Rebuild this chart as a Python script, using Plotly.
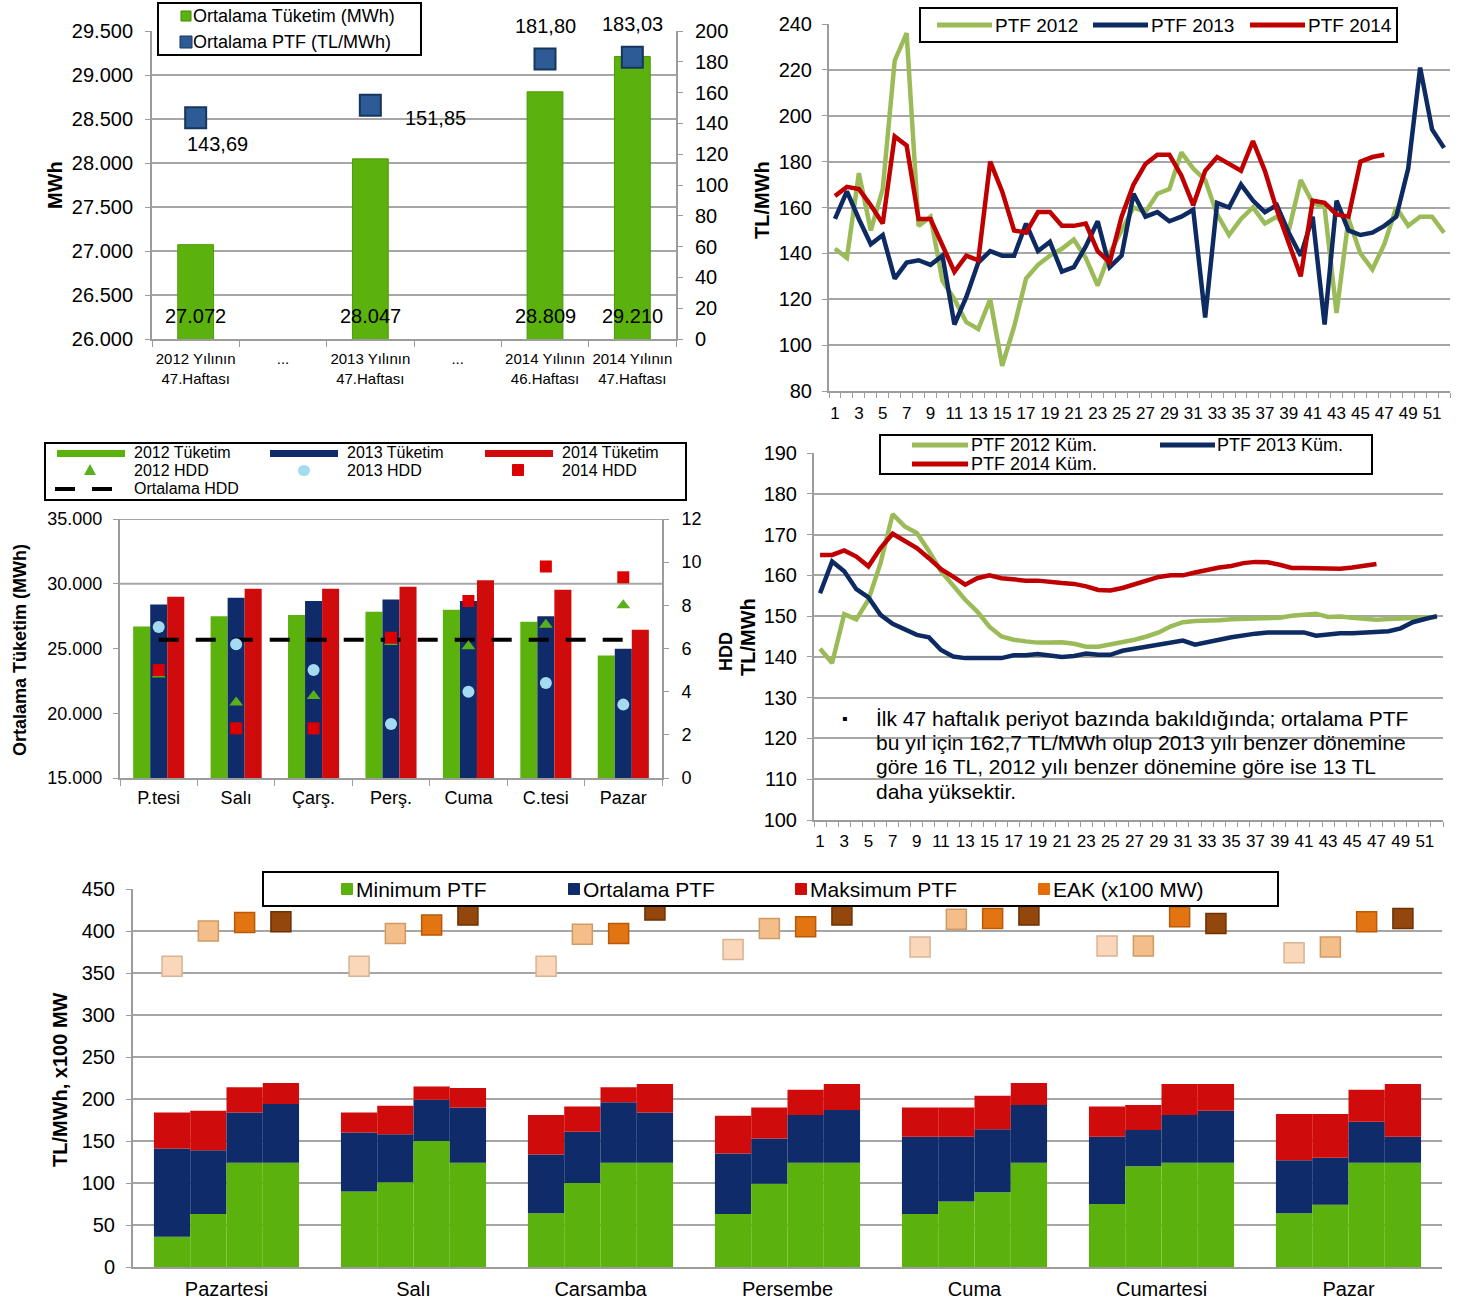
import plotly.graph_objects as go

FONT = "Liberation Sans, Arial, sans-serif"
W, H = 1458, 1304
GRID = "#A6A6A6"
AXIS = "#9C9C9C"

# ---------------- DATA ----------------
# Top-left: weekly average consumption & PTF
tl_ticktext = ["2012 Yılının<br>47.Haftası", "...", "2013 Yılının<br>47.Haftası", "...",
               "2014 Yılının<br>46.Haftası", "2014 Yılının<br>47.Haftası"]
tl_bar_idx = [0, 2, 4, 5]
tl_tuketim = [27072, 28047, 28809, 29210]
tl_ptf = [143.69, 151.85, 181.80, 183.03]

# Top-right: weekly PTF
weeks = list(range(1, 53))
ptf_2012 = [142, 138, 175, 150, 168, 224, 236, 152, 156, 128, 120, 110, 107, 120, 91, 108, 129, 135,
            139, 142, 146, 138, 126, 140, 150, 160, 158, 166, 168, 184, 177, 172, 157, 148, 155, 160,
            153, 156, 150, 172, 162, 160, 114, 155, 140, 133, 144, 160, 152, 156, 156, 149]
ptf_2013 = [155, 167, 155, 144, 148, 129, 136, 137, 135, 139, 109, 121, 136, 141, 139, 139, 153, 141,
            145, 132, 134, 143, 154, 134, 139, 166, 156, 158, 154, 156, 159, 112, 162, 160, 170, 163,
            158, 161, 149, 139, 156, 109, 163, 150, 148, 149, 152, 156, 177, 221, 194, 186]
ptf_2014 = [165, 169, 168, 161, 153, 191, 187, 155, 155, 143, 132, 139, 137, 180, 167, 150, 149, 158,
            158, 152, 152, 153, 141, 136, 156, 170, 179, 183, 183, 174, 161, 176, 182, 179, 176, 189,
            176, 159, 144, 130, 163, 162, 157, 156, 180, 182, 183]

# Middle-right: cumulative PTF
kum_2012 = [142, 138.5, 150.5, 149.2, 154, 163, 175, 172, 170.4, 166, 161, 157.3, 154, 151.1, 147.4,
            145, 144.2, 143.8, 143.5, 143.5, 143.6, 143.2, 142.5, 142.5, 143, 143.6, 144.2, 145, 146,
            147.5, 148.5, 148.8, 148.8, 149, 149.2, 149.3, 149.5, 149.5, 149.6, 150.1, 150.3, 150.6,
            149.8, 149.9, 149.6, 149.3, 149.1, 149.3, 149.4, 149.4, 149.6, 149.8]
kum_2013 = [155.6, 163.4, 161, 156.6, 154.6, 150.3, 148.1, 146.6, 145.4, 144.8, 141.7, 140.1, 139.7,
            139.7, 139.7, 139.7, 140.4, 140.4, 140.7, 140.3, 140, 140.2, 140.8, 140.5, 140.5, 141.5,
            142, 142.5, 143, 143.5, 144, 143, 143.5, 144.2, 144.8, 145.3, 145.7, 146, 146, 145.9, 146,
            145.2, 145.6, 145.8, 145.8, 146, 146, 146.3, 147, 148.5, 149.3, 150]
kum_2014 = [165, 165, 166.1, 164.6, 162.2, 166.7, 170.2, 168.3, 166.7, 164.2, 161.5, 159.7, 157.7,
            159.3, 160, 159.3, 158.9, 158.7, 158.7, 158.3, 158.1, 157.9, 157.3, 156.4, 156.3, 156.9,
            157.8, 158.7, 159.6, 160, 160, 160.7, 161.4, 161.9, 162.3, 163, 163.3, 163.2, 162.6,
            161.8, 161.8, 161.8, 161.6, 161.6, 161.9, 162.3, 162.8]

# Middle-left: daily consumption & HDD
ml_days = ["P.tesi", "Salı", "Çarş.", "Perş.", "Cuma", "C.tesi", "Pazar"]
tuk_2012 = [26700, 27500, 27580, 27840, 27990, 27070, 24450]
tuk_2013 = [28400, 28920, 28660, 28790, 28660, 27500, 24990]
tuk_2014 = [28990, 29610, 29610, 29760, 30270, 29530, 26450]
hdd_2012 = [4.8, 3.5, 3.8, 6.3, 6.1, 7.1, 8.0]
hdd_2013 = [7.0, 6.2, 5.0, 2.5, 4.0, 4.4, 3.4]
hdd_2014 = [5.0, 2.3, 2.3, 6.5, 8.2, 9.8, 9.3]
hdd_ort = [6.4] * 7

# Bottom: daily min / avg / max PTF and EAK, four sub-series per day
bt_days = ["Pazartesi", "Salı", "Carsamba", "Persembe", "Cuma", "Cumartesi", "Pazar"]
min_ptf = [
    [36, 90, 64, 63, 63, 75, 64],
    [63, 101, 100, 99, 78, 120, 74],
    [124, 150, 124, 124, 89, 124, 124],
    [124, 124, 124, 124, 124, 124, 124],
]
ort_ptf = [
    [141, 160, 134, 135, 155, 155, 127],
    [139, 158, 161, 153, 155, 163, 130],
    [184, 199, 196, 181, 164, 181, 173],
    [194, 190, 184, 187, 193, 186, 155],
]
max_ptf = [
    [184, 184, 181, 180, 190, 191, 182],
    [186, 192, 191, 190, 190, 193, 182],
    [214, 215, 214, 211, 204, 218, 211],
    [219, 213, 218, 218, 219, 218, 218],
]
eak = [
    [358, 358, 358, 378, 381, 382, 374],
    [400, 397, 396, 403, 414, 382, 381],
    [410, 407, 397, 405, 415, 417, 411],
    [411, 419, 425, 419, 419, 409, 415],
]

# ---------------- STYLE ----------------
GREEN = "#5CB20D"
NAVY = "#0F2B69"
RED = "#D00B0B"
L2012 = "#9BBB59"
L2013 = "#0D2A63"
L2014 = "#C00000"
EAK_COLORS = ["#F9D7B8", "#F3BE8A", "#E27412", "#93470C"]
EAK_LINES = ["#D9B393", "#CF9A66", "#B85A08", "#6B3206"]


def px(x):
    return x / W


def py(y):
    return 1 - y / H


shapes = []
annotations = []


def box(x0, y0, x1, y1):
    shapes.append(dict(type="rect", xref="paper", yref="paper", x0=px(x0), x1=px(x1),
                       y0=py(y1), y1=py(y0), line=dict(color="black", width=2),
                       fillcolor="white", layer="above"))


def hline(x0, x1, y, color, width, dash=None):
    d = dict(type="line", xref="paper", yref="paper", x0=px(x0), x1=px(x1), y0=py(y), y1=py(y),
             line=dict(color=color, width=width), layer="above")
    if dash:
        d["line"]["dash"] = dash
    shapes.append(d)


def sq(x, y, s, color, line=None):
    shapes.append(dict(type="rect", xref="paper", yref="paper", x0=px(x - s / 2), x1=px(x + s / 2),
                       y0=py(y + s / 2), y1=py(y - s / 2), fillcolor=color,
                       line=dict(color=line or color, width=1), layer="above"))


def txt(x, y, text, size, xanchor="left", bold=False, angle=0):
    if bold:
        text = "<b>" + text + "</b>"
    annotations.append(dict(xref="paper", yref="paper", x=px(x), y=py(y), text=text,
                            showarrow=False, xanchor=xanchor, yanchor="middle", borderpad=0,
                            font=dict(size=size, color="black", family=FONT), textangle=angle))


fig = go.Figure()

# ---------- Top-left ----------
fig.add_trace(go.Bar(x=tl_bar_idx, y=tl_tuketim, width=0.41, marker=dict(color=GREEN,
              line=dict(color="#4C9A08", width=1)), xaxis="x", yaxis="y"))
fig.add_trace(go.Scatter(x=tl_bar_idx, y=tl_ptf, mode="markers", xaxis="x", yaxis="y2",
                         marker=dict(symbol="square", size=21, color="#2D5B95",
                                     line=dict(color="#17365F", width=2)), cliponaxis=False))
for xi, v in zip(tl_bar_idx, tl_tuketim):
    annotations.append(dict(x=xi, y=26000, xref="x", yref="y", yanchor="bottom", yshift=10,
                            text=f"{v:,.0f}".replace(",", "."), showarrow=False,
                            font=dict(size=20, color="black", family=FONT)))
ptf_label_shift = [(22, -26), (65, -13), (0, 33), (0, 33)]
for xi, v, (dx, dy) in zip(tl_bar_idx, tl_ptf, ptf_label_shift):
    annotations.append(dict(x=xi, y=v, xref="x", yref="y2", xshift=dx, yshift=dy,
                            text=f"{v:.2f}".replace(".", ","), showarrow=False,
                            font=dict(size=20, color="black", family=FONT)))

# ---------- Top-right ----------
for arr, col in [(ptf_2012, L2012), (ptf_2013, L2013), (ptf_2014, L2014)]:
    fig.add_trace(go.Scatter(x=weeks[:len(arr)], y=arr, mode="lines", xaxis="x3", yaxis="y3",
                             line=dict(color=col, width=4.5)))

# ---------- Middle-left ----------
for arr, col, off in [(tuk_2012, GREEN, -0.33), (tuk_2013, NAVY, -0.11), (tuk_2014, RED, 0.11)]:
    fig.add_trace(go.Bar(x=ml_days, y=[v - 15000 for v in arr], base=15000, width=0.22,
                         offset=off, marker=dict(color=col, line=dict(width=0)),
                         xaxis="x4", yaxis="y4"))
fig.add_trace(go.Scatter(x=ml_days, y=hdd_ort, mode="lines", xaxis="x4", yaxis="y5",
                         line=dict(color="black", width=4, dash="20px,17px")))
fig.add_trace(go.Scatter(x=ml_days, y=hdd_2012, mode="markers", xaxis="x4", yaxis="y5",
                         marker=dict(symbol="triangle-up", size=12, color="#5AB01A")))
fig.add_trace(go.Scatter(x=ml_days, y=hdd_2013, mode="markers", xaxis="x4", yaxis="y5",
                         marker=dict(symbol="circle", size=12, color="#A4DBF0")))
fig.add_trace(go.Scatter(x=ml_days, y=hdd_2014, mode="markers", xaxis="x4", yaxis="y5",
                         marker=dict(symbol="square", size=12, color="#DD0000")))

# ---------- Middle-right ----------
for arr, col in [(kum_2012, L2012), (kum_2013, L2013), (kum_2014, L2014)]:
    fig.add_trace(go.Scatter(x=weeks[:len(arr)], y=arr, mode="lines", xaxis="x6", yaxis="y6",
                             line=dict(color=col, width=4.5)))

# ---------- Bottom ----------
SUBW = 0.194
for k in range(4):
    xs = [i + (k - 1.5) * SUBW for i in range(len(bt_days))]
    mn, av, mx = min_ptf[k], ort_ptf[k], max_ptf[k]
    fig.add_trace(go.Bar(x=xs, y=mn, base=0, width=SUBW, marker=dict(color=GREEN, line=dict(width=0)),
                         xaxis="x7", yaxis="y7"))
    fig.add_trace(go.Bar(x=xs, y=[a - b for a, b in zip(av, mn)], base=mn, width=SUBW,
                         marker=dict(color=NAVY, line=dict(width=0)), xaxis="x7", yaxis="y7"))
    fig.add_trace(go.Bar(x=xs, y=[a - b for a, b in zip(mx, av)], base=av, width=SUBW,
                         marker=dict(color=RED, line=dict(width=0)), xaxis="x7", yaxis="y7"))
for k in range(4):
    xs = [i + (k - 1.5) * SUBW for i in range(len(bt_days))]
    fig.add_trace(go.Scatter(x=xs, y=eak[k], mode="markers", xaxis="x7", yaxis="y7", cliponaxis=False,
                             marker=dict(symbol="square", size=20, color=EAK_COLORS[k],
                                         line=dict(color=EAK_LINES[k], width=1.5))))

# ---------------- AXES ----------------
tickfont = lambda s: dict(size=s, color="black", family=FONT)
common_y = dict(showline=True, linecolor=AXIS, linewidth=2, ticks="outside", ticklen=5,
                tickcolor=AXIS, gridcolor=GRID, gridwidth=2, zeroline=False, automargin=False)
common_x = dict(showline=True, linecolor=AXIS, linewidth=2, showgrid=False, zeroline=False,
                automargin=False)

layout = dict(
    width=W, height=H, margin=dict(l=0, r=0, t=0, b=0, pad=0, autoexpand=False),
    paper_bgcolor="white",
    plot_bgcolor="white", showlegend=False, barmode="overlay", separators=",.",
    font=dict(family=FONT, color="black"),
    # top-left
    xaxis=dict(domain=[px(152), px(676)], anchor="y", range=[-0.5, 5.5], tickvals=list(range(6)),
               ticktext=tl_ticktext, tickfont=tickfont(15), ticks="", ticklabelstandoff=5,
               minor=dict(tickmode="array", tickvals=[i + 0.5 for i in range(-1, 6)], ticks="outside",
                          ticklen=6, tickcolor=AXIS), **common_x),
    yaxis=dict(domain=[py(339), py(31)], anchor="x", range=[26000, 29500], dtick=500,
               tickformat=",d", tickfont=tickfont(20), ticklabelstandoff=8, **common_y),
    yaxis2=dict(overlaying="y", side="right", anchor="x", range=[0, 200], dtick=20, showgrid=False,
                showline=True, linecolor=AXIS, linewidth=2, ticks="outside", ticklen=5,
                tickcolor=AXIS, tickfont=tickfont(20), zeroline=False, automargin=False,
                ticklabelstandoff=8),
    # top-right
    xaxis3=dict(domain=[px(829), px(1450)], anchor="y3", range=[0.5, 52.5],
                tickvals=list(range(1, 52, 2)), tickfont=tickfont(17), ticks="", ticklabelstandoff=6,
                minor=dict(tickmode="linear", tick0=0.5, dtick=1, ticks="outside", ticklen=5,
                           tickcolor=AXIS), **common_x),
    yaxis3=dict(domain=[py(391), py(24)], anchor="x3", range=[80, 240], dtick=20,
                tickfont=tickfont(20), ticklabelstandoff=6, **common_y),
    # middle-left
    xaxis4=dict(domain=[px(120), px(662)], anchor="y4", type="category", tickfont=tickfont(18),
                ticks="outside", tickson="boundaries", ticklen=6, tickcolor=AXIS,
                ticklabelstandoff=2, **common_x),
    yaxis4=dict(domain=[py(778), py(519)], anchor="x4", range=[15000, 35000], dtick=5000,
                tickformat=",d", tickfont=tickfont(18), showline=True, linecolor=AXIS, linewidth=2,
                ticks="outside", ticklen=5, tickcolor=AXIS, showgrid=False, zeroline=False,
                automargin=False, ticklabelstandoff=7),
    yaxis5=dict(overlaying="y4", side="right", anchor="x4", range=[0, 12], dtick=2, showgrid=False,
                showline=True, linecolor=AXIS, linewidth=2, ticks="outside", ticklen=5,
                tickcolor=AXIS, tickfont=tickfont(18), zeroline=False, automargin=False,
                ticklabelstandoff=9),
    # middle-right
    xaxis6=dict(domain=[px(814), px(1443)], anchor="y6", range=[0.5, 52.5],
                tickvals=list(range(1, 52, 2)), tickfont=tickfont(17), ticks="", ticklabelstandoff=5,
                minor=dict(tickmode="linear", tick0=0.5, dtick=1, ticks="outside", ticklen=5,
                           tickcolor=AXIS), **common_x),
    yaxis6=dict(domain=[py(820), py(453)], anchor="x6", range=[100, 190], dtick=10,
                tickfont=tickfont(20), ticklabelstandoff=6, **common_y),
    # bottom
    xaxis7=dict(domain=[px(133), px(1442)], anchor="y7", range=[-0.5, 6.5],
                tickvals=list(range(len(bt_days))), ticktext=bt_days, tickfont=tickfont(20),
                ticks="", ticklabelstandoff=3, **common_x),
    yaxis7=dict(domain=[py(1267), py(889)], anchor="x7", range=[0, 450], dtick=50,
                tickfont=tickfont(20), ticklabelstandoff=7, **common_y),
)

# middle-left gridlines (only 30.000 and top border)
for yv in [30000, 35000]:
    shapes.append(dict(type="line", xref="x4 domain", yref="y4", x0=0, x1=1, y0=yv, y1=yv,
                       line=dict(color=GRID, width=2), layer="below"))

# ---------------- LEGENDS ----------------
# top-left
box(158, 3, 421, 55)
sq(186, 16, 10, GREEN, "#3F8A07")
txt(192, 16, "Ortalama Tüketim (MWh)", 18)
sq(186, 42, 12, "#2D5B95", "#17365F")
txt(192, 42, "Ortalama PTF (TL/MWh)", 18)

# top-right
box(920, 8, 1397, 42)
for x0, col, lab in [(937, L2012, "PTF 2012"), (1093, L2013, "PTF 2013"), (1250, L2014, "PTF 2014")]:
    hline(x0, x0 + 55, 25, col, 5)
    txt(x0 + 57, 25, lab, 19)

# middle-right
box(880, 435, 1372, 474)
hline(912, 968, 445, L2012, 5)
txt(970, 445, "PTF 2012 Küm.", 18)
hline(1160, 1215, 445, L2013, 5)
txt(1216, 445, "PTF 2013 Küm.", 18)
hline(912, 968, 464, L2014, 5)
txt(970, 464, "PTF 2014 Küm.", 18)

# middle-left
box(45, 443, 686, 500)
for x0, col, lab in [(57, GREEN, "2012 Tüketim"), (270, NAVY, "2013 Tüketim"), (485, RED, "2014 Tüketim")]:
    shapes.append(dict(type="rect", xref="paper", yref="paper", x0=px(x0), x1=px(x0 + 68),
                       y0=py(457), y1=py(450), fillcolor=col, line=dict(width=0), layer="above"))
    txt(x0 + 76, 452, lab, 16)
shapes.append(dict(type="path", xref="paper", yref="paper",
                   path=f"M {px(84)},{py(475)} L {px(96)},{py(475)} L {px(90)},{py(464)} Z",
                   fillcolor="#5AB01A", line=dict(width=0), layer="above"))
txt(133, 470, "2012 HDD", 16)
shapes.append(dict(type="circle", xref="paper", yref="paper", x0=px(298), x1=px(310),
                   y0=py(476), y1=py(465), fillcolor="#A4DBF0", line=dict(width=0), layer="above"))
txt(346, 470, "2013 HDD", 16)
sq(518, 470, 11, "#DD0000")
txt(561, 470, "2014 HDD", 16)
hline(55, 75, 489, "black", 4)
hline(92, 112, 489, "black", 4)
txt(133, 488, "Ortalama HDD", 16)

# bottom
box(263, 872, 1278, 906)
for xc, col, lab in [(347, GREEN, "Minimum PTF"), (574, NAVY, "Ortalama PTF"),
                     (801, RED, "Maksimum PTF"), (1044, "#E46C0A", "EAK (x100 MW)")]:
    sq(xc, 889, 11, col)
    txt(xc + 8, 889, lab, 21)

# ---------------- AXIS TITLES & NOTE ----------------
txt(55, 185, "MWh", 20, xanchor="center", bold=True, angle=-90)
txt(762, 200, "TL/MWh", 20, xanchor="center", bold=True, angle=-90)
txt(20, 650, "Ortalama Tüketim (MWh)", 18, xanchor="center", bold=True, angle=-90)
txt(726, 652, "HDD", 18, xanchor="center", bold=True, angle=-90)
txt(748, 637, "TL/MWh", 20, xanchor="center", bold=True, angle=-90)
txt(60, 1080, "TL/MWh, x100 MW", 20, xanchor="center", bold=True, angle=-90)

txt(845, 718, "▪", 16, xanchor="center")
note_lines = ["İlk 47 haftalık periyot bazında bakıldığında; ortalama PTF",
              "bu yıl için 162,7 TL/MWh olup 2013 yılı benzer dönemine",
              "göre 16 TL, 2012 yılı benzer dönemine göre ise 13 TL",
              "daha yüksektir."]
for i, line in enumerate(note_lines):
    txt(875, 718 + i * 24.4, line, 21)

layout["shapes"] = shapes
layout["annotations"] = annotations
fig.update_layout(**layout)

fig.write_html("out.html", config={"displayModeBar": False},
               post_script="document.body.style.margin='0';")
